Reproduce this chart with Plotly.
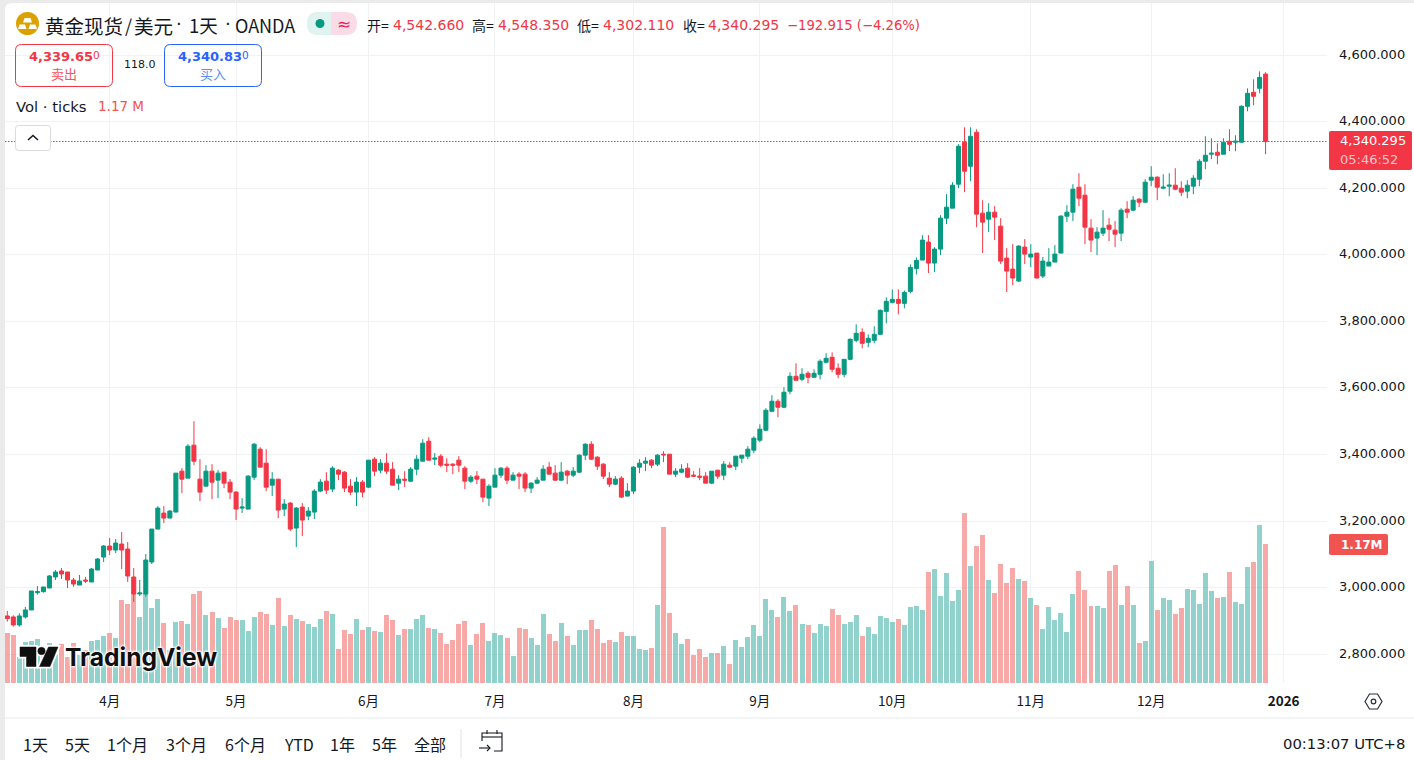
import plotly.graph_objects as go

W, H = 1414, 760

open_ = [
 2915,2912,2888,2912,2933,2985,2988,2999,3032,3050,
 3047,3023,3008,3023,3017,3053,3092,3125,3113,3131,
 3116,3032,2981,2981,3077,3176,3224,3209,3227,3350,
 3329,3428,3326,3305,3350,3323,3347,3317,3287,3239,
 3236,3332,3416,3374,3308,3326,3236,3254,3179,3242,
 3215,3227,3290,3320,3296,3353,3347,3305,3287,3317,
 3302,3386,3353,3374,3356,3314,3326,3320,3356,3380,
 3440,3386,3395,3371,3371,3383,3359,3320,3335,3326,
 3269,3302,3338,3359,3323,3341,3341,3299,3314,3323,
 3362,3344,3323,3350,3338,3347,3398,3431,3392,3371,
 3329,3311,3329,3275,3290,3362,3374,3383,3371,3401,
 3401,3341,3347,3359,3338,3335,3335,3314,3353,3338,
 3368,3365,3389,3395,3413,3443,3473,3530,3560,3542,
 3590,3635,3626,3644,3632,3641,3677,3692,3659,3641,
 3686,3743,3767,3737,3743,3761,3830,3857,3866,3854,
 3890,3959,3984,4038,3975,4017,4110,4140,4212,4338,
 4266,4368,4125,4107,4128,4086,3990,3957,3921,4023,
 3993,4005,3936,3966,3978,4005,4116,4128,4203,4179,
 4080,4050,4065,4089,4074,4065,4137,4134,4167,4158,
 4224,4233,4200,4206,4209,4200,4191,4206,4227,4281,
 4302,4308,4302,4341,4338,4338,4446,4488,4500,4542.66]
high = [
 2930,2917,2923,2942,2990,3005,3002,3038,3053,3059,
 3047,3029,3038,3032,3059,3089,3128,3149,3146,3167,
 3137,3059,3023,3101,3176,3245,3245,3233,3344,3359,
 3431,3500,3386,3368,3371,3353,3347,3326,3290,3269,
 3338,3434,3422,3416,3347,3326,3266,3257,3242,3254,
 3242,3296,3326,3347,3365,3356,3350,3326,3332,3323,
 3383,3392,3386,3404,3377,3338,3350,3362,3398,3446,
 3452,3404,3401,3389,3374,3395,3365,3338,3350,3326,
 3311,3359,3362,3365,3347,3347,3347,3317,3332,3368,
 3377,3368,3377,3353,3362,3401,3434,3440,3395,3374,
 3347,3335,3335,3314,3365,3386,3392,3386,3401,3410,
 3401,3359,3371,3374,3350,3359,3347,3350,3353,3380,
 3377,3395,3398,3425,3455,3491,3539,3578,3566,3602,
 3647,3674,3659,3650,3656,3686,3704,3707,3674,3686,
 3749,3791,3779,3761,3785,3836,3872,3896,3896,3893,
 3971,3992,4059,4059,4023,4119,4182,4218,4332,4383,
 4383,4377,4164,4155,4146,4110,4020,4032,4029,4047,
 4032,4005,3993,4020,4029,4119,4149,4212,4245,4212,
 4107,4083,4134,4110,4101,4140,4161,4176,4170,4227,
 4266,4236,4242,4245,4260,4221,4224,4239,4287,4356,
 4350,4335,4350,4377,4359,4449,4500,4527,4551,4548.35]
low = [
 2898,2883,2883,2907,2933,2979,2985,2999,3023,3026,
 2999,3003,3008,3014,3017,3053,3077,3098,3104,3056,
 3017,2957,2975,2973,3071,3176,3194,3209,3227,3284,
 3329,3368,3260,3305,3266,3269,3299,3266,3203,3224,
 3236,3323,3362,3290,3275,3209,3215,3170,3122,3155,
 3203,3206,3287,3281,3287,3323,3287,3278,3245,3272,
 3299,3335,3344,3341,3308,3293,3302,3317,3338,3380,
 3383,3368,3362,3347,3341,3347,3296,3314,3311,3257,
 3245,3302,3329,3311,3323,3296,3287,3284,3311,3323,
 3341,3320,3320,3311,3332,3344,3383,3383,3353,3326,
 3302,3308,3269,3275,3281,3344,3350,3359,3365,3377,
 3341,3332,3344,3329,3332,3323,3314,3311,3326,3323,
 3359,3353,3374,3386,3404,3437,3470,3527,3512,3539,
 3581,3623,3620,3614,3632,3626,3674,3647,3629,3632,
 3683,3737,3719,3722,3734,3761,3794,3854,3821,3839,
 3884,3941,3984,3945,3948,3999,4092,4140,4200,4188,
 4221,4083,4005,4068,4044,3972,3888,3909,3918,3972,
 3963,3930,3930,3966,3978,4005,4098,4101,4146,4032,
 4008,3999,4056,4041,4023,4041,4110,4131,4143,4155,
 4206,4164,4197,4176,4194,4176,4170,4182,4206,4257,
 4287,4272,4302,4311,4311,4338,4431,4449,4485,4302.11]
close = [
 2907,2888,2915,2933,2990,2988,3002,3035,3047,3041,
 3023,3011,3020,3020,3056,3086,3125,3113,3134,3113,
 3035,2981,2984,3083,3176,3239,3209,3230,3344,3326,
 3425,3380,3287,3350,3317,3344,3314,3287,3236,3242,
 3335,3431,3362,3302,3326,3233,3251,3176,3239,3203,
 3230,3290,3317,3293,3359,3341,3299,3287,3317,3287,
 3383,3350,3374,3350,3308,3326,3323,3356,3386,3434,
 3383,3389,3368,3368,3368,3368,3320,3332,3326,3272,
 3305,3338,3359,3323,3338,3335,3299,3314,3323,3356,
 3341,3323,3347,3338,3350,3398,3431,3386,3365,3335,
 3311,3326,3272,3290,3362,3374,3380,3368,3398,3399,
 3341,3350,3356,3332,3335,3332,3314,3350,3335,3371,
 3362,3395,3398,3416,3449,3476,3533,3560,3542,3587,
 3635,3623,3641,3632,3644,3680,3689,3656,3641,3686,
 3746,3764,3734,3749,3761,3833,3860,3866,3854,3887,
 3962,3983,4044,3975,4017,4110,4143,4209,4326,4251,
 4356,4122,4098,4128,4113,3981,3951,3930,4026,4002,
 4002,3930,3981,3978,4002,4116,4128,4197,4170,4083,
 4044,4068,4080,4077,4062,4134,4128,4164,4158,4218,
 4233,4203,4203,4209,4197,4188,4209,4230,4281,4299,
 4305,4299,4338,4332,4341,4446,4485,4476,4533,4340.295]
volume_k = [
 420,403,221,344,353,370,305,336,235,328,
 221,336,235,277,353,361,395,420,378,697,
 664,753,554,748,630,706,504,277,512,521,
 496,748,773,571,596,546,462,554,529,529,
 437,554,596,580,487,714,479,571,538,521,
 496,470,538,605,580,286,445,412,538,445,
 470,437,428,571,529,403,454,454,538,571,
 462,454,420,328,361,496,521,319,412,504,
 353,420,403,378,227,462,454,378,319,580,
 412,353,504,395,319,445,445,529,454,336,
 361,344,428,395,395,286,277,294,655,1310,
 588,420,328,370,235,286,218,252,252,311,
 160,361,302,386,487,395,706,613,554,722,
 605,655,496,487,420,496,479,622,571,496,
 512,571,395,470,412,563,546,512,538,487,
 638,647,613,932,958,731,924,689,781,1428,
 983,1151,1243,865,756,1000,840,966,874,857,
 714,655,454,638,529,588,428,748,941,781,
 647,647,630,941,991,655,815,655,336,353,
 1025,613,714,697,580,630,790,781,664,924,
 773,714,722,932,680,664,974,1016,1327,1170]

price_ticks = [2800,3000,3200,3400,3600,3800,4000,4200,4400,4600]
month_pos = [17,38,60,81,104,125,147,170,190,212]
month_labels = ["4月","5月","6月","7月","8月","9月","10月","11月","12月","<b>2026</b>"]
range_buttons = ["1天","5天","1个月","3个月","6个月","YTD","1年","5年","全部"]
button_left = [23,65,107,166,225,284,330,372,414]

UP, DOWN = "#089981", "#F23645"
VOL_UP, VOL_DOWN = "rgba(38,166,154,0.5)", "rgba(239,83,80,0.5)"
INK = "#131722"
GRID = "#F1F2F3"
FONT = "DejaVu Sans, Noto Sans CJK SC"
CJK = "Noto Sans CJK SC, DejaVu Sans"

px = lambda x: x / W
py = lambda y: 1 - y / H

idx = list(range(len(close)))
vol_colors = [VOL_UP if c >= o else VOL_DOWN for o, c in zip(open_, close)]

fig = go.Figure()
fig.add_trace(go.Bar(x=idx, y=volume_k, marker=dict(color=vol_colors, line_width=0),
                     width=0.83, yaxis="y", hoverinfo="skip"))
fig.add_trace(go.Candlestick(x=idx, open=open_, high=high, low=low, close=close, yaxis="y2",
                             whiskerwidth=0,
                             increasing=dict(line=dict(color=UP, width=1), fillcolor=UP),
                             decreasing=dict(line=dict(color=DOWN, width=1), fillcolor=DOWN),
                             hoverinfo="skip"))

shapes, notes = [], []


def path_shape(pts, fill=None, line=None, lw=1, closed=True, layer="above"):
    d = "M" + " L".join(f"{px(x):.6f},{py(y):.6f}" for x, y in pts) + (" Z" if closed else "")
    shapes.append(dict(type="path", xref="paper", yref="paper", path=d,
                       fillcolor=fill or "rgba(0,0,0,0)",
                       line=dict(color=line or "rgba(0,0,0,0)", width=lw if line else 0), layer=layer))


def rrect(x0, y0, x1, y1, r, fill=None, line=None, lw=1):
    p = lambda x, y: f"{px(x):.6f},{py(y):.6f}"
    d = (f"M{p(x0+r,y0)} L{p(x1-r,y0)} Q{p(x1,y0)} {p(x1,y0+r)} L{p(x1,y1-r)} Q{p(x1,y1)} {p(x1-r,y1)} "
         f"L{p(x0+r,y1)} Q{p(x0,y1)} {p(x0,y1-r)} L{p(x0,y0+r)} Q{p(x0,y0)} {p(x0+r,y0)} Z")
    shapes.append(dict(type="path", xref="paper", yref="paper", path=d,
                       fillcolor=fill or "rgba(0,0,0,0)",
                       line=dict(color=line or "rgba(0,0,0,0)", width=lw if line else 0)))


def circle(cx, cy, r, fill=None, line=None, lw=1):
    shapes.append(dict(type="circle", xref="paper", yref="paper",
                       x0=px(cx - r), x1=px(cx + r), y0=py(cy + r), y1=py(cy - r),
                       fillcolor=fill or "rgba(0,0,0,0)",
                       line=dict(color=line or "rgba(0,0,0,0)", width=lw if line else 0)))


def txt(x, y, text, size=14, color=INK, anchor="left", family=FONT, shadow=None):
    f = dict(size=size, color=color, family=family)
    if shadow:
        f["shadow"] = shadow
    notes.append(dict(xref="paper", yref="paper", x=px(x), y=py(y), text=text, showarrow=False,
                      xanchor=anchor, yanchor="middle", font=f, borderpad=0, borderwidth=0))


# panel on the grey page
shapes.append(dict(type="path", xref="paper", yref="paper", layer="below", fillcolor="white", line_width=0,
                   path=f"M{px(5)},{py(760)} L{px(5)},{py(10)} Q{px(5)},{py(3)} {px(12)},{py(3)} "
                        f"L{px(1414)},{py(3)} L{px(1414)},{py(760)} Z"))

# last price line
shapes.append(dict(type="line", xref="paper", yref="y2", x0=px(5), x1=px(1327), y0=close[-1], y1=close[-1],
                   line=dict(color=DOWN, width=1.2, dash="1.5px,1.5px")))

# separators
shapes.append(dict(type="line", xref="paper", yref="paper", x0=px(5), x1=1, y0=py(718), y1=py(718),
                   line=dict(color="#E8E9EB", width=1)))
shapes.append(dict(type="line", xref="paper", yref="paper", x0=px(461), x1=px(461), y0=py(729), y1=py(758),
                   line=dict(color="#E0E3EB", width=1)))

# symbol icon
circle(27.5, 23.5, 11.5, fill="#DBA100")
path_shape([(24.5, 18), (30.5, 18), (32, 22.5), (23, 22.5)], fill="white")
path_shape([(19.5, 24.5), (25, 24.5), (26.5, 29), (18, 29)], fill="white")
path_shape([(30, 24.5), (35.5, 24.5), (37, 29), (28.5, 29)], fill="white")
txt(44.5, 25, "黄金现货", 19.5, INK, family=CJK)
txt(124.5, 25, "/", 18, INK, family=CJK)
txt(134, 25, "美元", 19.5, INK, family=CJK)
txt(175.5, 24, "·", 18, INK, family="DejaVu Sans")
txt(189, 25, "1天", 18.5, INK, family=CJK)
txt(225, 24, "·", 18, INK, family="DejaVu Sans")
txt(235, 25, "OANDA", 18, INK, family=CJK)

# market status pill
rrect(307, 12, 357, 35, 11.5, fill="#FBDCE6")
p0 = lambda x, y: f"{px(x):.6f},{py(y):.6f}"
shapes.append(dict(type="path", xref="paper", yref="paper", fillcolor="#DFF3F0", line_width=0,
                   path=f"M{p0(331,12)} L{p0(318.5,12)} Q{p0(307,12)} {p0(307,23.5)} Q{p0(307,35)} {p0(318.5,35)} L{p0(331,35)} Z"))
circle(320, 23.5, 4.5, fill=UP)
txt(344, 23.5, "≈", 17, "#E91E63", anchor="center")

# OHLC legend
for x, s in [(367, "开="), (472, "高="), (577, "低="), (683, "收=")]:
    txt(x, 25, s, 14, INK, family=CJK)
for x, s in [(393, f"{open_[-1]:,.3f}"), (497.5, f"{high[-1]:,.3f}"),
             (603, f"{low[-1]:,.3f}"), (708, f"{close[-1]:,.3f}")]:
    txt(x, 25, s, 14, DOWN)
txt(787, 25, "−192.915 (−4.26%)", 13.2, DOWN)

# bid and ask
rrect(15.5, 44.5, 112.5, 86.5, 6, line=DOWN)
rrect(164.5, 44.5, 261.5, 86.5, 6, line="#2962FF")
txt(29, 57, "<b>4,339.65</b>", 13, DOWN)
txt(93, 55, "0", 10.5, DOWN)
txt(63.5, 74, "卖出", 13, "#F7525F", anchor="center", family=CJK)
txt(123.5, 65, "118.0", 11, INK)
txt(178, 57, "<b>4,340.83</b>", 13, "#2962FF")
txt(242, 55, "0", 10.5, "#2962FF")
txt(213, 74, "买入", 13, "#5B8DEF", anchor="center", family=CJK)

# volume legend
txt(16, 106.5, "Vol · ticks", 14.8, INK)
txt(98, 106.5, "1.17 M", 13.5, "#F15350")

# collapse button
rrect(15.5, 125.5, 50.5, 150.5, 3, fill="white", line="#DADBDD")
path_shape([(28, 140), (33, 135.5), (38, 140)], line=INK, lw=1.5, closed=False)

# price and volume tags
rrect(1329, 131, 1412, 170, 2, fill=DOWN)
txt(1340, 141, f"{close[-1]:,.3f}", 13, "white")
txt(1340, 159, "05:46:52", 13, "#FBC5CB")
rrect(1329, 534, 1388, 555, 2, fill="#F15350")
txt(1340.5, 545, "<b>1.17M</b>", 12, "white")

# settings icon
path_shape([(1365, 701.5), (1369.5, 694), (1377.5, 694), (1382, 701.5), (1377.5, 709), (1369.5, 709)],
           line="#2A2E39", lw=1.2)
circle(1373.5, 701.5, 2.3, line="#2A2E39", lw=1.2)

# TradingView watermark
for color, lw in [("white", 4), ("#0F0F0F", 0.5)]:
    path_shape([(20, 647), (36, 647), (36, 666.5), (26.5, 666.5), (26.5, 656.5), (20, 656.5)], fill=color, line=color, lw=lw)
    path_shape([(48.5, 647), (58, 647), (50, 666.5), (39.5, 666.5)], fill=color, line=color, lw=lw)
    circle(41.5, 651, 3.7, fill=color, line=color, lw=lw)
txt(65, 657, "<b>TradingView</b>", 24.6, "#0F0F0F", family="Inter, DejaVu Sans",
    shadow="0 0 3px white, 0 0 3px white, 0 0 3px white, 0 0 3px white")

# bottom toolbar
for x, s in zip(button_left, range_buttons):
    txt(x, 743.5, s, 16, INK, family=CJK)
path_shape([(482, 741), (482, 733), (502, 733), (502, 751), (494, 751)], line=INK, lw=1.1, closed=False)
path_shape([(482, 737), (502, 737)], line=INK, lw=1.1, closed=False)
path_shape([(487, 730), (487, 734)], line=INK, lw=1.1, closed=False)
path_shape([(497, 730), (497, 734)], line=INK, lw=1.1, closed=False)
path_shape([(479, 748), (490, 748)], line=INK, lw=1.1, closed=False)
path_shape([(487, 745), (490, 748), (487, 751)], line=INK, lw=1.1, closed=False)
txt(1405, 743, "00:13:07 UTC+8", 14.8, INK, anchor="right")

fig.update_layout(
    width=W, height=H, autosize=False,
    margin=dict(l=0, r=0, t=0, b=0, pad=0),
    paper_bgcolor="#EBEBEB", plot_bgcolor="rgba(0,0,0,0)",
    showlegend=False, hovermode=False, boxgap=0.33, boxgroupgap=0, bargap=0,
    font=dict(family=FONT, color=INK),
    xaxis=dict(domain=[px(5), px(1327)], range=[-0.382, 219.2], tickmode="array",
               tickvals=month_pos, ticktext=month_labels, tickfont=dict(size=13.5, color=INK, family=CJK),
               showgrid=True, gridcolor=GRID, gridwidth=1, zeroline=False, showline=False, ticks="",
               ticklabelstandoff=8, rangeslider=dict(visible=False)),
    yaxis=dict(domain=[py(683), py(3)], range=[0, 5712], visible=False, showgrid=False, zeroline=False),
    yaxis2=dict(domain=[py(683), py(3)], range=[2713.6, 4756.3], overlaying="y", side="right", anchor="x",
                tickmode="array", tickvals=price_ticks, tickformat=",.3f",
                tickfont=dict(size=13, color=INK, family="DejaVu Sans"),
                showgrid=True, gridcolor=GRID, gridwidth=1, zeroline=False, showline=False, ticks="",
                ticklabelstandoff=11, ticklabelshift=-1),
    shapes=shapes, annotations=notes,
)

fig.write_html("out.html", config=dict(displayModeBar=False, responsive=False),
               post_script="document.body.style.margin='0';document.documentElement.style.overflow='hidden';")
